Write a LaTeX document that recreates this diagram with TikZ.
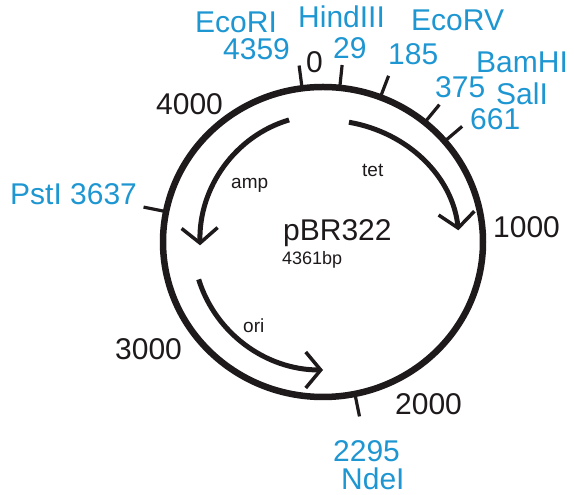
\documentclass[tikz,border=0pt]{standalone}
\usepackage{fontspec}
\setmainfont{Liberation Sans}
\usetikzlibrary{arrows.meta,calc}
\definecolor{siteblue}{RGB}{30,150,210}
\definecolor{inkblack}{RGB}{30,26,27}
\tikzset{
  ring/.style={line width=6.5pt, draw=inkblack},
  gene/.style={line width=5pt, draw=inkblack, -{Straight Barb[length=15pt,width=36pt,line width=3.5pt]}},
  tickmark/.style={line width=3.2pt, draw=inkblack},
  site/.style={inner sep=0pt, anchor=base west, text=siteblue, font=\fontsize{30}{31}\selectfont},
  bplabel/.style={inner sep=0pt, anchor=base west, text=inkblack, font=\fontsize{30}{31}\selectfont},
  genelabel/.style={inner sep=0pt, anchor=base west, text=inkblack, font=\fontsize{19}{20}\selectfont},
}
\begin{document}
\begin{tikzpicture}[x=1pt,y=1pt]
\useasboundingbox (0,0) rectangle (574,495);
\coordinate (C) at (323,253);
% plasmid ring
\draw[ring] (C) ellipse[x radius=160, y radius=155];
% restriction site ticks
\foreach \nm/\a in {ecori/97.5, hind/84, ecorv/69, bam/50.5, sal/40.5, pst/168.7, nde/-78.5} {
  \coordinate (\nm-in) at ($(C)+(\a:160 and 155)$);
  \coordinate (\nm-out) at ($(C)+(\a:183 and 178)$);
  \draw[tickmark] (\nm-in) -- (\nm-out);
}
% genes
\coordinate (amp-s) at ($(C)+(106:123 and 127)$);
\draw[gene] (amp-s) arc[start angle=106, end angle=181.5, x radius=123, y radius=127];
\coordinate (tet-s) at ($(C)+(79:136 and 122)$);
\draw[gene] (tet-s) arc[start angle=79, end angle=5.5, x radius=136, y radius=122];
\coordinate (ori-s) at ($(C)+(197:130 and 128)$);
\draw[gene] (ori-s) arc[start angle=197, end angle=270, x radius=130, y radius=128];
% center labels
\node[inner sep=0pt, anchor=base west, text=inkblack, font=\fontsize{30}{31}\selectfont] (name) at (283,254) {pBR322};
\node[inner sep=0pt, anchor=base west, text=inkblack, font=\fontsize{18}{19}\selectfont] (size) at (282,230) {4361bp};
\node[genelabel] (amp) at (231,306) {amp};
\node[genelabel] (tet) at (362,318) {tet};
\node[genelabel] (ori) at (243,162) {ori};
% scale labels
\node[bplabel] (s0) at (306,422) {0};
\node[bplabel] (s1000) at (493,257) {1000};
\node[bplabel] (s2000) at (395,80) {2000};
\node[bplabel] (s3000) at (115,135) {3000};
\node[bplabel] (s4000) at (156,380) {4000};
% site labels
\node[site] (l-ecori) at (195,462) {EcoRI};
\node[site] (p-ecori) at (223,435) {4359};
\node[site] (l-hind) at (298,467) {HindIII};
\node[site] (p-hind) at (333,436) {29};
\node[site] (l-ecorv) at (411,464) {EcoRV};
\node[site] (p-ecorv) at (388,430) {185};
\node[site] (l-bam) at (476,422) {BamHI};
\node[site] (p-bam) at (435,397) {375};
\node[site] (l-sal) at (496,390) {SalI};
\node[site] (p-sal) at (470,365) {661};
\node[site] (l-pst) at (10,290) {PstI 3637};
\node[site] (p-nde) at (333,33) {2295};
\node[site] (l-nde) at (341,5) {NdeI};
\end{tikzpicture}
\end{document}
